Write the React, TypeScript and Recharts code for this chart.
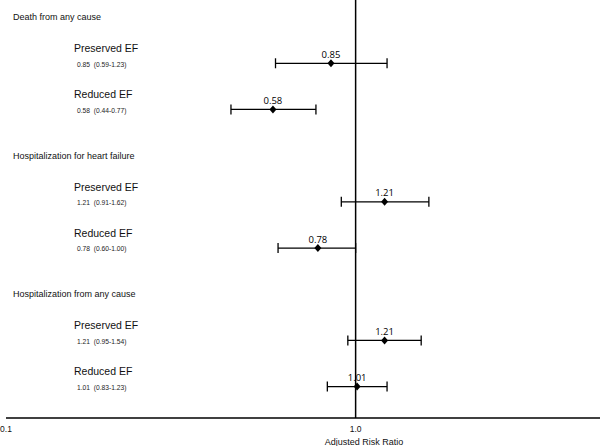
import React from "react";
import { ScatterChart, Scatter, XAxis, YAxis, ErrorBar, ReferenceLine, LabelList } from "recharts";

const groupNames = ["Death from any cause", "Hospitalization for heart failure", "Hospitalization from any cause"];
const groupRows = [0, 3, 6];
const subgroupNames = ["Preserved EF", "Reduced EF", "Preserved EF", "Reduced EF", "Preserved EF", "Reduced EF"];
const subgroupRows = [1, 2, 4, 5, 7, 8];
const estimates = [0.85, 0.58, 1.21, 0.78, 1.21, 1.01];
const lowerCI = [0.59, 0.44, 0.91, 0.6, 0.95, 0.83];
const upperCI = [1.23, 0.77, 1.62, 1.0, 1.54, 1.23];
const xTicks = [0.1, 1];
const xAxisTitle = "Adjusted Risk Ratio";

const pointData = estimates.map((est, i) => ({
  est,
  row: subgroupRows[i],
  name: subgroupNames[i],
  ci: `${est.toFixed(2)}  (${lowerCI[i].toFixed(2)}-${upperCI[i].toFixed(2)})`,
  err: [est - lowerCI[i], upperCI[i] - est],
}));
const headingData = groupNames.map((name, i) => ({ est: 1, row: groupRows[i], name }));

const Diamond = (props: any) => {
  const { cx, cy } = props;
  if (cx == null || cy == null) return null;
  return <path d={`M${cx},${cy - 4}L${cx + 3.5},${cy}L${cx},${cy + 4}L${cx - 3.5},${cy}Z`} fill="#000" />;
};

const SubLabel = (props: any) => {
  const { cy, payload } = props;
  if (cy == null) return null;
  return (
    <g>
      <text x={74} y={cy - 15} dy="0.35em" fontSize={10.5} fontFamily="Liberation Sans, Arial, sans-serif" fill="#111">
        {payload.name}
      </text>
      <text x={77} y={cy + 1} dy="0.35em" fontSize={6.7} fontFamily="Liberation Sans, Arial, sans-serif" fill="#222" style={{ whiteSpace: "pre" }}>
        {payload.ci}
      </text>
    </g>
  );
};

const HeadLabel = (props: any) => {
  const { cy, payload } = props;
  if (cy == null) return null;
  return (
    <text x={13} y={cy} dy="0.35em" fontSize={9} fontFamily="Liberation Sans, Arial, sans-serif" fill="#111">
      {payload.name}
    </text>
  );
};

export default function App() {
  return (
    <div style={{ position: "absolute", left: 0, top: 0, background: "#fff" }}>
      <ScatterChart width={600} height={446} margin={{ top: 0, right: 0, bottom: 0, left: 6 }}>
        <XAxis
          type="number"
          dataKey="est"
          scale="log"
          domain={[0.1, 5]}
          allowDataOverflow
          ticks={xTicks}
          tickFormatter={(v: number) => v.toFixed(1)}
          tickLine={false}
          tickSize={0}
          tickMargin={8}
          height={28}
          axisLine={{ stroke: "#000", strokeWidth: 1.5 }}
          tick={{ fontSize: 8.5, fill: "#111", fontFamily: "Liberation Sans, Arial, sans-serif" }}
          label={{ value: xAxisTitle, position: "insideBottom", offset: 1, dx: 61, fontSize: 9, fill: "#111", fontFamily: "Liberation Sans, Arial, sans-serif" }}
        />
        <YAxis type="number" dataKey="row" domain={[-0.37, 8.68]} reversed hide allowDataOverflow />
        <ReferenceLine x={1} stroke="#000" strokeWidth={1.5} ifOverflow="extendDomain" />
        <Scatter data={headingData} dataKey="est" shape={HeadLabel} isAnimationActive={false} />
        <Scatter data={pointData} dataKey="est" shape={SubLabel} isAnimationActive={false} />
        <Scatter data={pointData} dataKey="est" shape={Diamond} isAnimationActive={false}>
          <ErrorBar dataKey="err" direction="x" width={5} stroke="#000" strokeWidth={1.3} />
          <LabelList dataKey="est" position="top" offset={1} fontSize={9.5} fill="#000" fontFamily="Open Sans, sans-serif" formatter={(v: number) => v.toFixed(2)} />
        </Scatter>
      </ScatterChart>
    </div>
  );
}
